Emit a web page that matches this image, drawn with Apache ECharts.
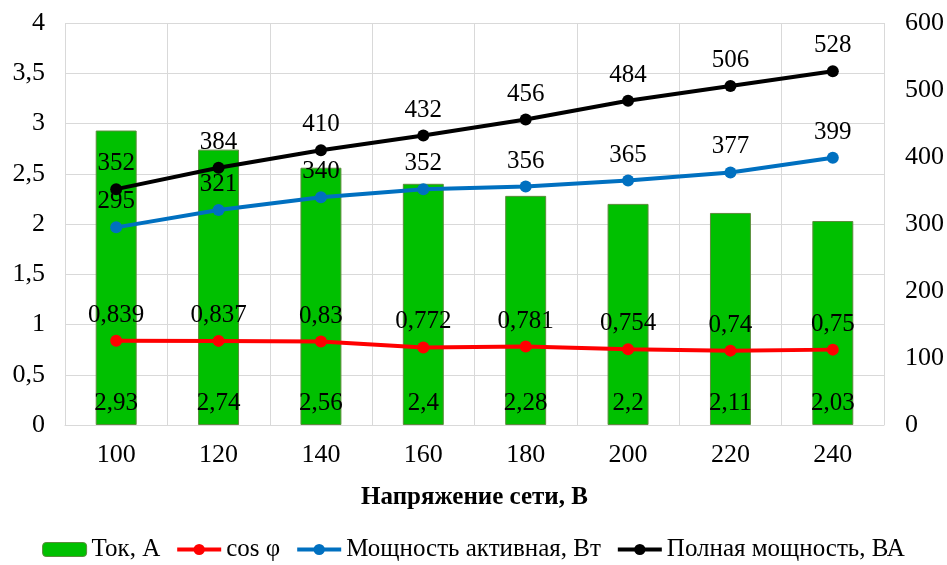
<!DOCTYPE html>
<html><head><meta charset="utf-8">
<script src="https://cdn.jsdelivr.net/npm/echarts@6/dist/echarts.min.js"></script>
<style>html,body{margin:0;padding:0;background:#fff}#c{width:947px;height:565px}</style>
</head><body><div id="c"></div>
<script>
const categories = ['100','120','140','160','180','200','220','240'];
const current = [2.93, 2.74, 2.56, 2.4, 2.28, 2.2, 2.11, 2.03];
const cosPhi = [0.839, 0.837, 0.83, 0.772, 0.781, 0.754, 0.74, 0.75];
const activePower = [295, 321, 340, 352, 356, 365, 377, 399];
const fullPower = [352, 384, 410, 432, 456, 484, 506, 528];
const seriesNames = ['Ток, А', 'cos φ', 'Мощность активная, Вт', 'Полная мощность, ВА'];
const xTitle = 'Напряжение сети, В';

const FONT = '"Liberation Serif", "Times New Roman", serif';
const fmt = v => String(v).replace('.', ',');
const chart = echarts.init(document.getElementById('c'));
const lbl = {show: true, position: 'top', distance: 7, fontFamily: FONT, fontSize: 25, color: '#000',
  formatter: p => fmt(p.value)};
chart.setOption({
  animation: false,
  textStyle: {fontFamily: FONT},
  grid: {left: 65, right: 61, top: 23, bottom: 140},
  legend: {
    bottom: -2, left: 'center', itemGap: 15, itemWidth: 44, itemHeight: 14,
    textStyle: {fontFamily: FONT, fontSize: 25, color: '#000'},
    lineStyle: {width: 4},
    data: seriesNames.map((n, i) => i === 0
      ? {name: n, itemStyle: {borderColor: '#5b8c3c', borderWidth: 1}}
      : {name: n})
  },
  xAxis: {
    type: 'category', data: categories,
    name: xTitle, nameLocation: 'middle', nameGap: 60,
    nameTextStyle: {fontFamily: FONT, fontSize: 25, fontWeight: 'bold', color: '#000'},
    axisLine: {show: true, lineStyle: {color: '#d9d9d9', width: 1}},
    axisTick: {show: false},
    axisLabel: {fontFamily: FONT, fontSize: 26, color: '#000', margin: 17},
    splitLine: {show: true, lineStyle: {color: '#d9d9d9', width: 1}}
  },
  yAxis: [
    {type: 'value', min: 0, max: 4, interval: 0.5,
     axisLine: {show: false}, axisTick: {show: false},
     axisLabel: {fontFamily: FONT, fontSize: 26, color: '#000', margin: 20, formatter: v => fmt(v)},
     splitLine: {show: true, lineStyle: {color: '#d9d9d9', width: 1}}},
    {type: 'value', min: 0, max: 600, interval: 100, position: 'right',
     axisLine: {show: false}, axisTick: {show: false},
     axisLabel: {fontFamily: FONT, fontSize: 26, color: '#000', margin: 21},
     splitLine: {show: false}}
  ],
  series: [
    {name: seriesNames[0], type: 'bar', data: current, yAxisIndex: 0, barWidth: '40%',
     itemStyle: {color: '#00c000', borderColor: '#5b8c3c', borderWidth: 1},
     label: {show: true, position: 'insideBottom', distance: 9, fontFamily: FONT, fontSize: 25, color: '#000',
       formatter: p => fmt(p.value)}},
    {name: seriesNames[1], type: 'line', data: cosPhi, yAxisIndex: 0,
     symbol: 'circle', symbolSize: 12, lineStyle: {color: '#ff0000', width: 4},
     itemStyle: {color: '#ff0000'}, label: lbl},
    {name: seriesNames[2], type: 'line', data: activePower, yAxisIndex: 1,
     symbol: 'circle', symbolSize: 12, lineStyle: {color: '#0070c0', width: 4},
     itemStyle: {color: '#0070c0'}, label: lbl},
    {name: seriesNames[3], type: 'line', data: fullPower, yAxisIndex: 1,
     symbol: 'circle', symbolSize: 12, lineStyle: {color: '#000000', width: 4},
     itemStyle: {color: '#000000'}, label: lbl}
  ]
});
</script></body></html>
